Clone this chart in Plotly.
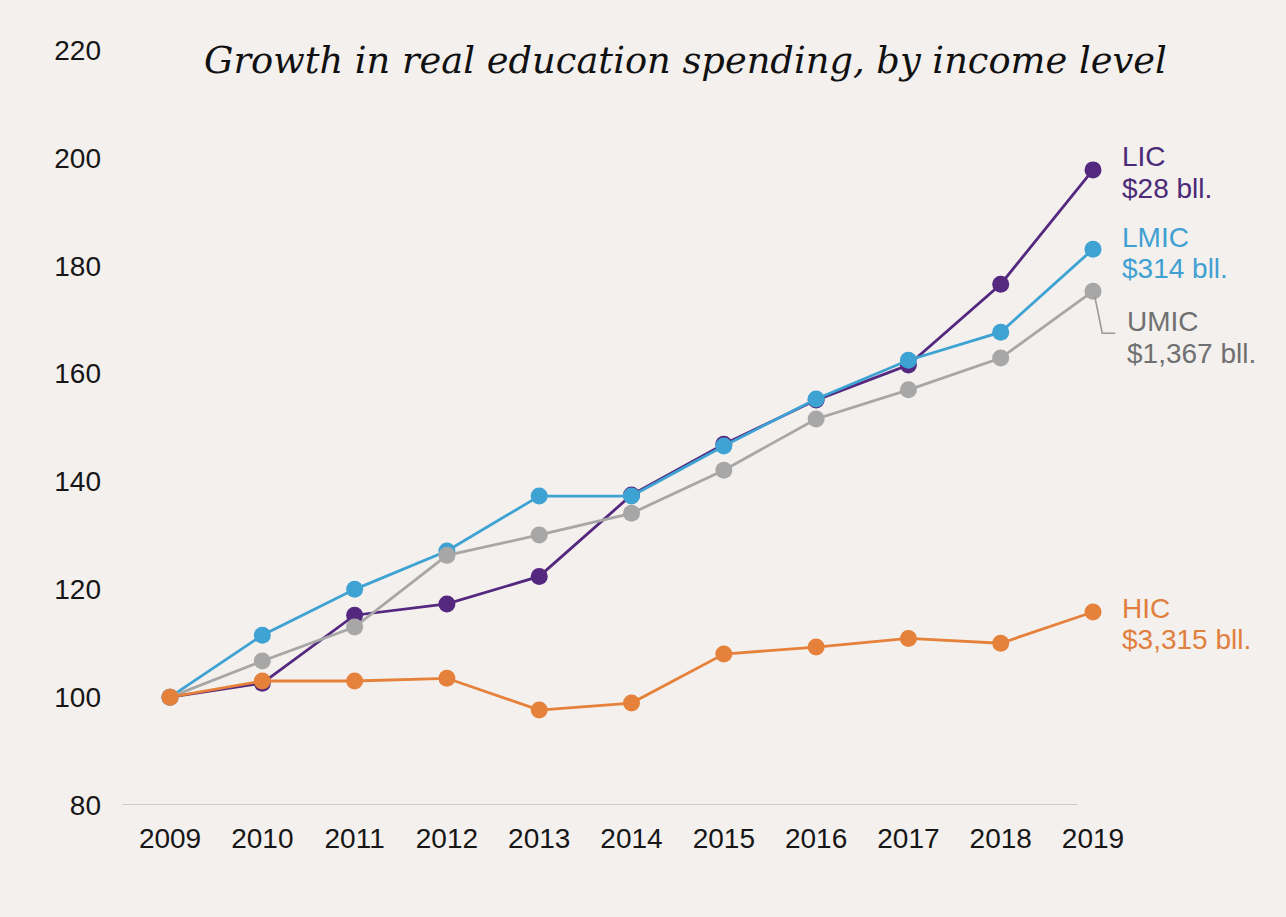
import plotly.graph_objects as go

# Index of real education spending (2009 = 100), by country income group
years = [2009, 2010, 2011, 2012, 2013, 2014, 2015, 2016, 2017, 2018, 2019]

lic = [100, 102.6, 115.2, 117.3, 122.4, 137.5, 146.9, 155.1, 161.6, 176.6, 197.8]
lmic = [100, 111.5, 120.0, 127.1, 137.3, 137.3, 146.6, 155.3, 162.5, 167.7, 183.1]
umic = [100, 106.7, 113.0, 126.3, 130.1, 134.1, 142.1, 151.6, 157.0, 162.9, 175.3]
hic = [100, 103.0, 103.0, 103.5, 97.6, 98.9, 108.0, 109.3, 110.9, 110.0, 115.8]

group_names = ["LIC", "LMIC", "UMIC", "HIC"]
group_totals = ["$28 bll.", "$314 bll.", "$1,367 bll.", "$3,315 bll."]

y_ticks = [80, 100, 120, 140, 160, 180, 200, 220]

line_colors = {"LIC": "#55287f", "LMIC": "#3ea2d3", "UMIC": "#a7a7a7", "HIC": "#e5813a"}
text_colors = {"LIC": "#4b2a77", "LMIC": "#41a0d2", "UMIC": "#707070", "HIC": "#e07f3e"}

series = {"LIC": lic, "LMIC": lmic, "UMIC": umic, "HIC": hic}
draw_order = ["LIC", "LMIC", "UMIC", "HIC"]

BG = "#f3f0ee"
SANS = "Liberation Sans, Arial, sans-serif"
TICK_FONT = dict(family=SANS, size=28, color="#161616")

fig = go.Figure()

for name in draw_order:
    fig.add_trace(go.Scatter(
        x=years, y=series[name], mode="lines+markers", name=name,
        line=dict(color=line_colors[name], width=2.8),
        marker=dict(color=line_colors[name], size=17),
        cliponaxis=False, showlegend=False,
    ))

# End-of-line labels: group name on one line, total spending below it
label_dx = {"LIC": 0.29, "LMIC": 0.29, "UMIC": 0.35, "HIC": 0.29}
name_dy = {"LIC": 2.4, "LMIC": 2.2, "UMIC": -5.7, "HIC": 0.7}
LINE_GAP = 5.8  # vertical distance between the two label lines, in index points
for name, total in zip(group_names, group_totals):
    last = series[name][-1]
    for i, txt in enumerate([name, total]):
        fig.add_annotation(
            x=years[-1] + label_dx[name], y=last + name_dy[name] - i * LINE_GAP,
            xref="x", yref="y", xanchor="left", yanchor="middle", align="left",
            text=txt, showarrow=False,
            font=dict(family=SANS, size=28, color=text_colors[name]),
        )

# Leader line from the UMIC end point to its label
u_last = umic[-1]
fig.add_shape(
    type="path", xref="x", yref="y",
    path=(f"M {years[-1] + 0.02} {u_last - 1.0} "
          f"L {years[-1] + 0.10} {u_last - 7.8} "
          f"L {years[-1] + 0.24} {u_last - 7.8}"),
    line=dict(color="#9a9a9a", width=1.6),
)

# Baseline under the series
fig.add_shape(
    type="line", xref="x", yref="y",
    x0=years[0] - 0.52, x1=years[-1] - 0.17, y0=y_ticks[0], y1=y_ticks[0],
    line=dict(color="#cdcdcd", width=2), layer="below",
)

fig.update_layout(
    width=1286, height=917,
    margin=dict(l=120, r=6, t=20, b=112),
    paper_bgcolor=BG, plot_bgcolor=BG,
    title=dict(
        text="Growth in real education spending, by income level",
        xref="container", yref="container", x=0.533, y=0.934,
        xanchor="center", yanchor="middle",
        font=dict(family="DejaVu Serif", size=36.8, color="#111111", style="italic"),
    ),
    xaxis=dict(
        range=[2008.458, 2021.026], tickmode="array", tickvals=years,
        ticktext=[str(y) for y in years], showgrid=False, zeroline=False,
        showline=False, ticks="", tickfont=TICK_FONT, ticklabelstandoff=14,
    ),
    yaxis=dict(
        range=[80, 225.6], tickmode="array", tickvals=y_ticks,
        ticktext=[str(v) for v in y_ticks], showgrid=False, zeroline=False,
        showline=False, ticks="", tickfont=TICK_FONT, ticklabelstandoff=18,
    ),
)

fig.write_html("out.html")
